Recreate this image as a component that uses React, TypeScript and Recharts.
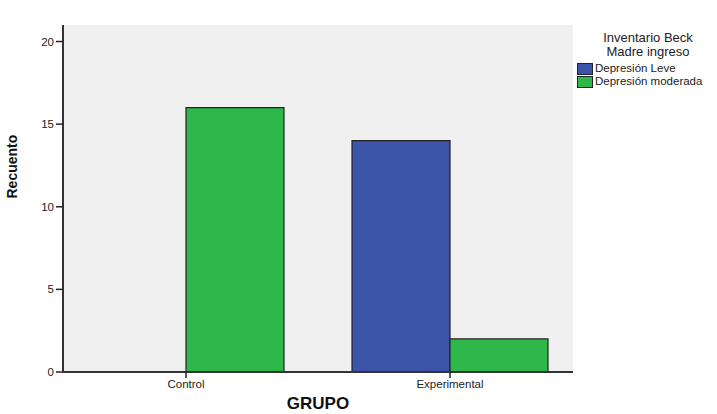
import { BarChart, Bar, XAxis, YAxis, CartesianGrid } from 'recharts'

const grupos = ['Control', 'Experimental']
const leve = [0, 14]
const moderada = [16, 2]
const yTicks = [0, 5, 10, 15, 20]

const data = grupos.map((g, i) => ({ grupo: g, leve: leve[i], moderada: moderada[i] }))

const font = '"Liberation Sans", Arial, sans-serif'

function LegendBox() {
  const items = [
    { label: 'Depresión Leve', color: '#3d55a9' },
    { label: 'Depresión moderada', color: '#2eb84a' },
  ]
  return (
    <div style={{ position: 'absolute', left: 577, top: 31, fontFamily: font, color: '#222' }}>
      <div style={{ textAlign: 'center', fontSize: 13, lineHeight: '14px', width: 142, marginBottom: 3 }}>
        Inventario Beck<br />Madre ingreso
      </div>
      {items.map((it) => (
        <div key={it.label} style={{ display: 'flex', alignItems: 'center', height: 13, fontSize: 11.5, lineHeight: '13px', whiteSpace: 'nowrap' }}>
          <span style={{ display: 'inline-block', width: 14, height: 10, background: it.color, border: '1px solid #222', marginRight: 2 }} />
          {it.label}
        </div>
      ))}
    </div>
  )
}

export default function App() {
  return (
    <div style={{ position: 'absolute', left: 0, top: 0, width: 717, height: 414, background: '#fff', fontFamily: font }}>
      <BarChart
        width={717}
        height={414}
        data={data}
        margin={{ top: 25, right: 144, bottom: 0, left: 0 }}
        barCategoryGap={34}
        barGap={0}
      >
        <CartesianGrid horizontal={false} vertical={false} fill="#f0f0f0" />
        <XAxis
          dataKey="grupo"
          height={42}
          padding={{ left: -9, right: -9 }}
          axisLine={{ stroke: '#333', strokeWidth: 2 }}
          tickLine={{ stroke: '#222', strokeWidth: 1.5 }}
          tickSize={6}
          tick={{ fill: '#222', fontSize: 11.5, fontFamily: font }}
          label={{ value: 'GRUPO', position: 'insideBottom', offset: 5, fill: '#111', fontSize: 17, fontWeight: 'bold', fontFamily: font }}
        />
        <XAxis xAxisId="top" orientation="top" dataKey="grupo" height={0} tick={false} tickLine={false} axisLine={{ stroke: '#666', strokeWidth: 1.5 }}
          label={{ value: 'Gráfico de barras', position: 'top', offset: 8, fill: '#111', fontSize: 16, fontWeight: 'bold', fontFamily: font }}
        />
        <YAxis
          width={63}
          domain={[0, 21]}
          ticks={yTicks}
          allowDataOverflow
          axisLine={{ stroke: '#333', strokeWidth: 2 }}
          tickLine={{ stroke: '#222', strokeWidth: 1.5 }}
          tickSize={7}
          tick={{ fill: '#222', fontSize: 11.5, fontFamily: font }}
          label={{ value: 'Recuento', angle: -90, position: 'insideLeft', offset: 12, fill: '#111', fontSize: 14, fontWeight: 'bold', fontFamily: font }}
        />
        <YAxis yAxisId="right" orientation="right" width={0} tick={false} tickLine={false} domain={[0, 21]} axisLine={{ stroke: '#666', strokeWidth: 1.5 }} />
        <Bar dataKey="leve" fill="#3d55a9" stroke="#222" strokeWidth={1.2} isAnimationActive={false} />
        <Bar dataKey="moderada" fill="#2eb84a" stroke="#222" strokeWidth={1.2} isAnimationActive={false} />
      </BarChart>
      <LegendBox />
    </div>
  )
}
